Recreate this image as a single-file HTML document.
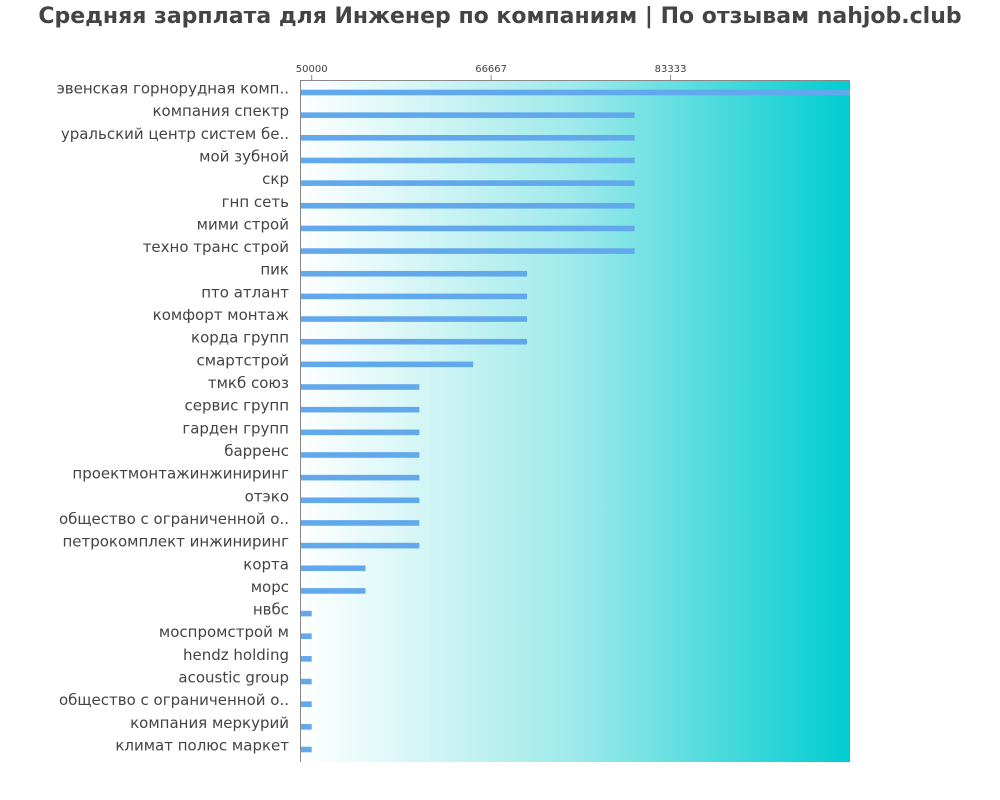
<!DOCTYPE html>
<html><head><meta charset="utf-8"><style>body{margin:0;background:#fff}svg{display:block;font-family:"DejaVu Sans","Liberation Sans",sans-serif}</style></head>
<body>
<svg id="c" width="1000" height="800">
<defs><linearGradient id="g" x1="0" x2="1" y1="0" y2="0"><stop offset="0" stop-color="#ffffff"/><stop offset="0.5" stop-color="#9ee9ea"/><stop offset="1" stop-color="#00cdd0"/></linearGradient></defs>
<text x="500" y="23" text-anchor="middle" font-size="22" font-weight="bold" fill="#444">Средняя зарплата для Инженер по компаниям  | По отзывам nahjob.club</text>
<rect x="300" y="80" width="550" height="682" fill="url(#g)"/>
<g id="bars"></g>
<line x1="300.5" y1="80" x2="300.5" y2="762" stroke="#888"/>
<line x1="300" y1="80.5" x2="850" y2="80.5" stroke="#888"/>
</svg>
<script>
const categories=["эвенская горнорудная комп..","компания спектр","уральский центр систем бе..","мой зубной","скр","гнп сеть","мими строй","техно транс строй","пик","пто атлант","комфорт монтаж","корда групп","смартстрой","тмкб союз","сервис групп","гарден групп","барренс","проектмонтажинжиниринг","отэко","общество с ограниченной о..","петрокомплект инжиниринг","корта","морс","нвбс","моспромстрой м","hendz holding","acoustic group","общество с ограниченной о..","компания меркурий","климат полюс маркет"];
const values=[100000,80000,80000,80000,80000,80000,80000,80000,70000,70000,70000,70000,65000,60000,60000,60000,60000,60000,60000,60000,60000,55000,55000,50000,50000,50000,50000,50000,50000,50000];
const tickValues=[50000,66667,83333];
const tickLabels=["50000","66667","83333"];
const xMin=48915,xMax=100000,X0=300,X1=850;
const x=v=>X0+(v-xMin)/(xMax-xMin)*(X1-X0);
const n=categories.length,top0=92.5,step=(749.5-92.5)/(n-1);
const y=i=>top0+i*step;
const svg=document.getElementById('c'),g=document.getElementById('bars');
const NS='http://www.w3.org/2000/svg';
tickValues.forEach((t,i)=>{
 const l=document.createElementNS(NS,'line');
 l.setAttribute('x1',x(t));l.setAttribute('x2',x(t));l.setAttribute('y1',75);l.setAttribute('y2',80);l.setAttribute('stroke','#888');
 
 
 svg.appendChild(l);
 const tx=document.createElementNS(NS,'text');
 tx.setAttribute('x',x(t));tx.setAttribute('y',72);tx.setAttribute('text-anchor','middle');tx.setAttribute('font-size','10');tx.setAttribute('fill','#444');
 tx.textContent=tickLabels[i];
 
 
 svg.appendChild(tx);
});
categories.forEach((c,i)=>{
 const r=document.createElementNS(NS,'rect');
 r.setAttribute('x',X0);r.setAttribute('y',y(i)-2.8);r.setAttribute('width',x(values[i])-X0);r.setAttribute('height',5.6);r.setAttribute('fill','#62a8ec');
 
 
 g.appendChild(r);
 const t=document.createElementNS(NS,'text');
 t.setAttribute('x',289);t.setAttribute('y',y(i)+1);t.setAttribute('text-anchor','end');t.setAttribute('font-size','15');t.setAttribute('fill','#444');
 t.textContent=c;
 
 
 g.appendChild(t);
});
</script>
</body></html>
